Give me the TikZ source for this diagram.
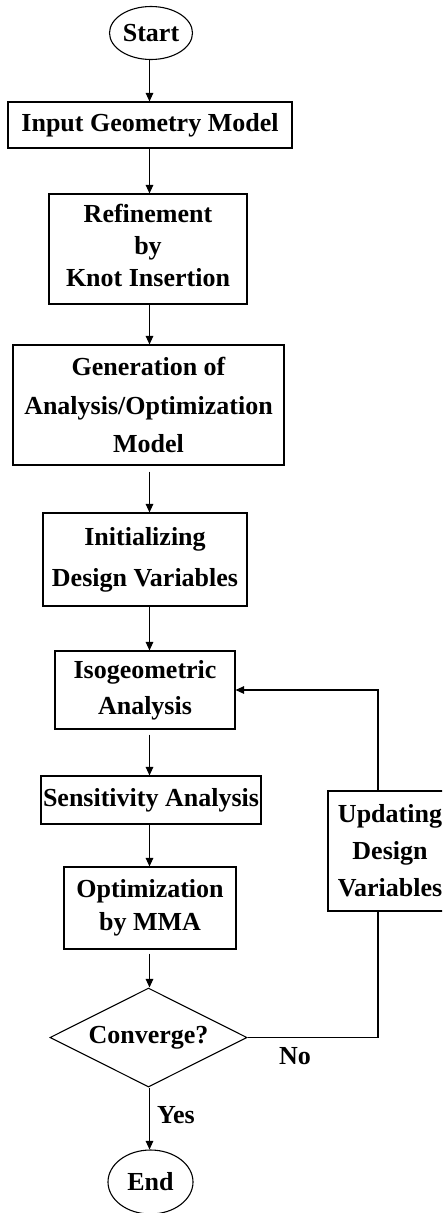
\documentclass[tikz,border=0pt]{standalone}
\usepackage{fontspec}
\setmainfont{Liberation Serif}
\usetikzlibrary{arrows.meta,shapes.geometric}
\begin{document}
\begin{tikzpicture}[x=1pt,y=-1pt,
  every node/.style={inner sep=0pt, font=\bfseries\fontsize{26}{32}\selectfont},
  lines/.style={font=\bfseries\fontsize{26}{#1}\selectfont},
  box/.style={draw, line width=1.1pt, rectangle, align=center},
  term/.style={draw, line width=1.1pt, ellipse},
  decide/.style={draw, line width=1.1pt, diamond, aspect=2},
  link/.style={line width=1.1pt},
  flow/.style={line width=1.1pt, -{Triangle[length=8.5pt,width=7.5pt]}}]
\clip (0,0) rectangle (442,1213);
\fill[white] (0,0) rectangle (442,1213);

% main column
\node[term, minimum width=83pt, minimum height=53pt] (start) at (151,33) {Start};
\node[box, minimum width=284pt, minimum height=46pt] (input) at (150,125) {Input Geometry Model};
\node[box, lines=32, minimum width=198pt, minimum height=110pt] (refine) at (148,249) {Refinement\\by\\Knot Insertion\\[-24pt]};
\node[box, lines=38.5, minimum width=271pt, minimum height=120pt] (gen) at (148.5,405) {Generation of\\Analysis/Optimization\\Model};
\node[box, lines=41, minimum width=204pt, minimum height=93pt] (init) at (145,559.5) {Initializing\\Design Variables};
\node[box, lines=36, minimum width=180pt, minimum height=78pt] (iso) at (145,690) {Isogeometric\\Analysis};
\node[box, minimum width=220pt, minimum height=48pt] (sens) at (151,800) {Sensitivity Analysis};
\node[box, lines=33, minimum width=172pt, minimum height=82pt] (opt) at (150,908) {Optimization\\by MMA};
\node[decide, minimum width=197pt, minimum height=99pt] (conv) at (148.5,1037.5) {Converge?};
\node[term, minimum width=85pt, minimum height=64pt] (end) at (150.5,1182) {End};

% feedback branch
\node[box, lines=37, minimum width=124pt, minimum height=120pt] (upd) at (390,851) {Updating\\Design\\Variables};

% branch labels
\node (no) at (295,1056) {No};
\node (yes) at (176,1115) {Yes};

% connectors
\coordinate (spine) at (149.5,0);
\coordinate (loopx) at (378,0);
\draw[flow] (start.south -| spine) -- (input.north -| spine);
\draw[flow] (input.south -| spine) -- (refine.north -| spine);
\draw[flow] (refine.south -| spine) -- (gen.north -| spine);
\draw[flow, shorten <=6pt] (gen.south -| spine) -- (init.north -| spine);
\draw[flow] (init.south -| spine) -- (iso.north -| spine);
\draw[flow, shorten <=5pt] (iso.south -| spine) -- (sens.north -| spine);
\draw[flow] (sens.south -| spine) -- (opt.north -| spine);
\draw[flow, shorten <=4pt] (opt.south -| spine) -- (conv.north -| spine);
\draw[flow] (conv.south -| spine) -- (end.north -| spine);
\draw[link] (conv.east) -| (loopx |- upd.south);
\draw[flow] (loopx |- upd.north) |- (iso.east);
\end{tikzpicture}
\end{document}
